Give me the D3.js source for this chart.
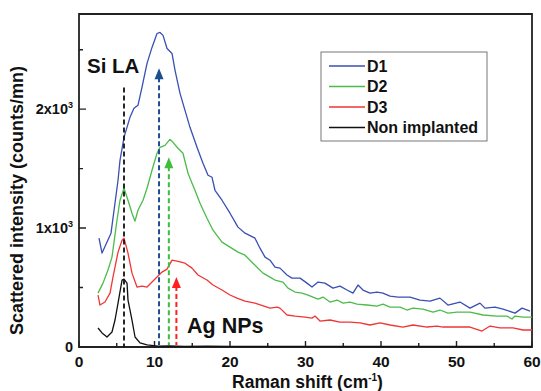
<!DOCTYPE html>
<html>
<head>
<meta charset="utf-8">
<script src="https://d3js.org/d3.v7.min.js"></script>
<style>
  body { margin: 0; background: #fff; }
  text { font-family: Arial, "Liberation Sans", sans-serif; }
</style>
</head>
<body>
<div id="chart"></div>
<script>
// ===== RAMAN SPECTRA =====

// [shift (cm-1), intensity (counts/mn)]
const d1 = [
  [2.65, 915], [3.05, 790], [4.24, 957], [5.17, 1402], [5.43, 1570], [5.96, 1763],
  [6.75, 1931], [7.28, 2007], [7.81, 2032], [8.34, 2183], [9.01, 2385], [9.67, 2519],
  [10.33, 2636], [10.73, 2645], [11.13, 2620], [11.66, 2510], [12.32, 2468], [12.72, 2326],
  [13.38, 2133], [14.04, 1990], [14.70, 1847], [15.63, 1679], [16.42, 1545], [17.09, 1444],
  [17.62, 1427], [18.01, 1318], [18.94, 1234], [20.0, 1125], [21.06, 1008], [21.99, 957],
  [23.31, 915], [23.97, 831], [24.64, 756], [25.30, 730], [25.96, 672], [26.62, 663],
  [27.55, 605], [28.21, 579], [29.27, 579], [30.20, 537], [30.86, 504], [31.66, 546],
  [32.58, 537], [33.64, 495], [34.57, 512], [35.50, 479], [36.29, 453], [36.95, 521],
  [37.62, 479], [38.54, 453], [39.47, 462], [40.26, 453], [41.19, 428], [42.25, 420],
  [43.84, 420], [45.17, 395], [46.49, 386], [47.81, 411], [48.87, 353], [50.46, 378],
  [51.79, 327], [53.11, 369], [53.77, 327], [55.10, 336], [56.16, 319], [57.75, 285],
  [58.68, 327], [59.74, 302]
];

const d2 = [
  [2.52, 453], [3.18, 537], [3.84, 647], [4.37, 756], [5.03, 1066], [5.43, 1234],
  [5.96, 1335], [6.49, 1234], [7.02, 1125], [7.42, 1058], [7.81, 1150], [8.48, 1234],
  [9.01, 1335], [9.67, 1486], [10.33, 1629], [10.73, 1679], [11.39, 1696], [12.05, 1746],
  [12.45, 1721], [13.11, 1671], [13.77, 1629], [14.44, 1461], [14.97, 1377], [15.36, 1318],
  [16.03, 1209], [16.95, 1083], [17.75, 982], [18.94, 882], [20.0, 840], [21.06, 798],
  [21.99, 772], [23.31, 688], [24.37, 621], [25.30, 588], [25.96, 563], [27.02, 546],
  [27.68, 495], [28.61, 462], [29.54, 453], [30.33, 437], [30.99, 420], [31.66, 403],
  [32.32, 420], [33.25, 378], [34.17, 395], [34.97, 369], [35.89, 378], [36.82, 361],
  [38.15, 353], [39.47, 344], [40.26, 361], [41.19, 336], [42.52, 336], [43.44, 311],
  [44.24, 327], [45.56, 319], [46.89, 294], [47.81, 311], [48.87, 285], [50.07, 294],
  [51.79, 294], [53.51, 269], [55.36, 260], [56.69, 260], [57.35, 235], [57.75, 260],
  [58.81, 252], [60, 252]
];

const d3data = [
  [2.52, 437], [2.78, 353], [3.44, 378], [4.11, 453], [4.50, 588], [5.17, 798],
  [5.70, 898], [5.96, 915], [6.49, 789], [7.02, 621], [7.68, 504], [8.34, 512],
  [9.01, 504], [9.67, 546], [10.33, 588], [10.99, 630], [11.66, 655], [12.32, 730],
  [12.98, 722], [14.04, 705], [14.97, 663], [15.76, 605], [16.95, 563], [17.75, 521],
  [18.94, 479], [20.0, 437], [20.93, 411], [21.99, 386], [23.31, 369], [25.30, 327],
  [26.23, 336], [26.62, 327], [27.55, 269], [28.61, 260], [29.93, 252], [30.86, 243],
  [31.26, 260], [31.92, 218], [33.25, 227], [34.57, 210], [35.89, 210], [37.22, 202],
  [38.54, 185], [39.87, 202], [41.19, 185], [42.91, 168], [44.24, 185], [46.09, 168],
  [47.42, 176], [48.21, 168], [50.07, 168], [51.79, 168], [53.38, 134], [54.44, 176],
  [55.76, 160], [57.48, 160], [58.81, 143], [60, 143]
];

const nonImplanted = [
  [2.52, 160], [3.05, 118], [3.71, 84], [4.37, 126], [4.77, 227], [5.17, 369],
  [5.70, 563], [5.96, 571], [6.36, 537], [6.49, 395], [7.02, 227], [7.42, 84],
  [8.08, 34], [9.01, 17], [10.46, 8], [12, 10], [14, 6], [17, 8], [20, 5],
  [25, 6], [30, 5], [35, 6], [40, 4], [45, 5], [50, 4], [55, 5], [60, 4]
];

const seriesNames = ["D1", "D2", "D3", "Non implanted"];
const seriesColors = ["#3a4fb2", "#4cbb4c", "#f03535", "#111111"];

// x position, arrow tip intensity
const siLA = [5.96, 2183];
const arrowX = [10.6, 11.9, 12.9];
const arrowTip = [2343, 1595, 588];
const arrowColors = ["#1c4f8f", "#3cbf3c", "#ff2020"];

const xTicks = [0, 10, 20, 30, 40, 50, 60];
const xMinor = [5, 15, 25, 35, 45, 55];
const yTicks = [0, 1000, 2000];
const yMinor = [500, 1500, 2500];
const xDomain = [0, 60];
const yDomain = [0, 2800];

const W = 541, H = 391;
const margin = { left: 79, right: 9, top: 14, bottom: 44 };

const svg = d3.select("#chart").append("svg")
  .attr("width", W)
  .attr("height", H);

const x = d3.scaleLinear().domain(xDomain).range([margin.left, W - margin.right]);
const y = d3.scaleLinear().domain(yDomain).range([H - margin.bottom, margin.top]);

// plot frame as a path through the domain corners
const corners = [
  [xDomain[0], yDomain[0]], [xDomain[1], yDomain[0]],
  [xDomain[1], yDomain[1]], [xDomain[0], yDomain[1]]
];
const frameLine = d3.line().x(d => x(d[0])).y(d => y(d[1]));
svg.append("path")
  .attr("d", frameLine(corners) + "Z")
  .attr("fill", "none")
  .attr("stroke", "#222")
  .attr("stroke-width", 1.8);

// tick marks pointing inward
let ticksD = "";
xTicks.forEach(v => { ticksD += `M${x(v)},${y(0)}V${y(0) - 6}`; });
xMinor.forEach(v => { ticksD += `M${x(v)},${y(0)}V${y(0) - 4}`; });
yTicks.forEach(v => { ticksD += `M${x(0)},${y(v)}H${x(0) + 7}`; });
yMinor.forEach(v => { ticksD += `M${x(0)},${y(v)}H${x(0) + 4}`; });
svg.append("path")
  .attr("d", ticksD)
  .attr("fill", "none")
  .attr("stroke", "#222")
  .attr("stroke-width", 1.4);

// x tick labels
xTicks.forEach(v => {
  svg.append("text")
    .attr("x", x(v)).attr("y", y(0) + 20)
    .attr("text-anchor", "middle")
    .attr("font-size", 15.5).attr("font-weight", "bold").attr("fill", "#111")
    .text(v);
});

// y tick labels as "1x10^3"
yTicks.forEach(v => {
  const t = svg.append("text")
    .attr("x", x(0) - 6).attr("y", y(v) + 5)
    .attr("text-anchor", "end")
    .attr("font-size", 14.5).attr("font-weight", "bold").attr("fill", "#111");
  if (v === 0) {
    t.text("0");
  } else {
    t.append("tspan").text(`${v / 1000}x10`);
    t.append("tspan").attr("font-size", 9).attr("dy", -6).text("3");
  }
});

// axis titles
const xt = svg.append("text")
  .attr("x", (x(0) + x(60)) / 2 + 2).attr("y", 388)
  .attr("text-anchor", "middle")
  .attr("font-size", 17.5).attr("font-weight", "bold").attr("fill", "#111");
xt.append("tspan").text("Raman shift (cm");
xt.append("tspan").attr("font-size", 10).attr("dy", -7).text("-1");
xt.append("tspan").attr("dy", 7).text(")");

svg.append("text")
  .attr("transform", `translate(23,${(y(0) + y(2800)) / 2 + 20}) rotate(-90)`)
  .attr("text-anchor", "middle")
  .attr("font-size", 18).attr("font-weight", "bold").attr("fill", "#111")
  .text("Scattered intensity (counts/mn)");

// spectra
const line = d3.line().x(d => x(d[0])).y(d => y(d[1]));
[d1, d2, d3data, nonImplanted].forEach((data, i) => {
  svg.append("path")
    .attr("d", line(data))
    .attr("fill", "none")
    .attr("stroke", seriesColors[i])
    .attr("stroke-width", 1.3)
    .attr("stroke-linejoin", "round");
});

// Si LA marker
svg.append("line")
  .attr("x1", x(siLA[0])).attr("x2", x(siLA[0]))
  .attr("y1", y(siLA[1])).attr("y2", y(0))
  .attr("stroke", "#111").attr("stroke-width", 1.8)
  .attr("stroke-dasharray", "5,3");
svg.append("text")
  .attr("x", 87).attr("y", 73)
  .attr("font-size", 20.5).attr("font-weight", "bold").attr("fill", "#111")
  .text("Si LA");

// Ag NPs arrows
arrowX.forEach((v, i) => {
  const px = x(v), tip = y(arrowTip[i]);
  svg.append("line")
    .attr("x1", px).attr("x2", px)
    .attr("y1", tip + 9).attr("y2", y(0) - 2)
    .attr("stroke", arrowColors[i]).attr("stroke-width", 2)
    .attr("stroke-dasharray", "5,3");
  svg.append("path")
    .attr("d", `M${px},${tip} L${px - 4.5},${tip + 11} L${px + 4.5},${tip + 11} Z`)
    .attr("fill", arrowColors[i]);
});
svg.append("text")
  .attr("x", 187).attr("y", 333)
  .attr("font-size", 21.5).attr("font-weight", "bold").attr("fill", "#111")
  .text("Ag NPs");

// legend
const lg = svg.append("g");
lg.append("rect")
  .attr("x", 321).attr("y", 52).attr("width", 166).attr("height", 89)
  .attr("fill", "#fff").attr("stroke", "#777").attr("stroke-width", 1);
seriesNames.forEach((name, i) => {
  const ly = 66 + i * 20.5;
  lg.append("line")
    .attr("x1", 329).attr("x2", 365).attr("y1", ly).attr("y2", ly)
    .attr("stroke", seriesColors[i]).attr("stroke-width", 1.3);
  lg.append("text")
    .attr("x", 367).attr("y", ly + 5.5)
    .attr("font-size", 16).attr("font-weight", "bold").attr("fill", "#111")
    .text(name);
});
</script>
</body>
</html>
